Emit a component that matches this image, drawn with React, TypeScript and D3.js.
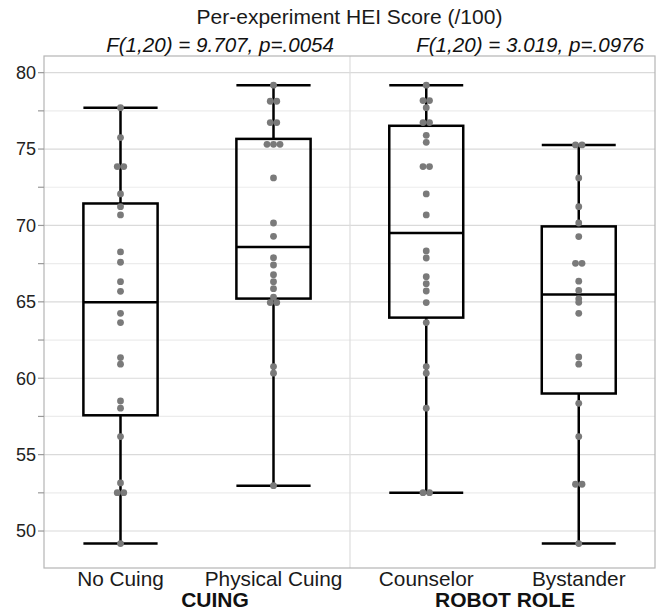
import React from 'react'
import * as d3 from 'd3'

// per-participant HEI scores
const noCuing = [77.71, 75.75, 73.85, 73.85, 72.06, 71.23, 70.69, 68.27, 67.59, 66.32, 65.69,
  64.25, 63.64, 61.35, 60.92, 58.51, 58.04, 56.18, 53.15, 52.51, 52.51, 49.18]
const physicalCuing = [79.18, 78.13, 78.13, 76.73, 76.73, 75.31, 75.31, 75.31, 73.11, 70.16, 69.29,
  67.89, 67.41, 66.78, 66.32, 65.86, 65.3, 64.95, 64.95, 60.76, 60.33, 52.97]
const counselor = [79.18, 78.17, 78.17, 77.71, 76.73, 76.73, 75.9, 75.44, 73.85, 73.85, 72.06, 70.69,
  68.33, 67.87, 66.65, 66.19, 65.71, 64.95, 63.64, 60.76, 60.33, 58.04, 52.51, 52.51]
const bystander = [75.27, 75.27, 73.11, 71.23, 70.16, 69.27, 67.52, 67.52, 66.35, 65.75, 65.2,
  64.97, 64.25, 61.39, 60.92, 58.36, 56.18, 53.06, 53.06, 49.18]

const cuingCats = ['No Cuing', 'Physical Cuing']
const roleCats = ['Counselor', 'Bystander']
const cuingSeries = [noCuing, physicalCuing]
const roleSeries = [counselor, bystander]

const groupTitles = ['CUING', 'ROBOT ROLE']
const stats = ['F(1,20) = 9.707, p=.0054', 'F(1,20) = 3.019, p=.0976']
const title = 'Per-experiment HEI Score (/100)'

const yTicks = d3.range(50, 80.01, 2.5)

const W = 660
const H = 613
const frame = { left: 44, right: 655, top: 56, bottom: 568 }
const mid = 350
const font = '"Liberation Sans", Arial, sans-serif'

// quartiles the way SPSS / Minitab do it (p*(n+1))
function q6(sorted: number[], p: number) {
  const n = sorted.length
  const h = p * (n + 1)
  const lo = Math.floor(h)
  if (lo < 1) return sorted[0]
  if (lo >= n) return sorted[n - 1]
  return sorted[lo - 1] + (h - lo) * (sorted[lo] - sorted[lo - 1])
}

function swarm(vals: number[]) {
  const out: { v: number, dx: number }[] = []
  const seen = new Map<number, number>()
  vals.forEach(v => seen.set(v, (seen.get(v) || 0) + 1))
  seen.forEach((k, v) => {
    for (let i = 0; i < k; i++) out.push({ v, dx: (i - (k - 1) / 2) * 6.5 })
  })
  return out
}

const Panel = ({ cats, series, x0, x1 }: { cats: string[], series: number[][], x0: number, x1: number }) => {
  const y = d3.scaleLinear().domain([47.58, 81.09]).range([frame.bottom, frame.top])
  const x = d3.scaleBand().domain(cats).range([x0, x1]).paddingInner(0.515).paddingOuter(0.2575)
  const bw = x.bandwidth()
  return (
    <g>
      {cats.map((c, i) => {
        const s = series[i].slice().sort(d3.ascending)
        const q1 = q6(s, 0.25)
        const med = q6(s, 0.5)
        const q3 = q6(s, 0.75)
        const lo = s[0]
        const hi = s[s.length - 1]
        const bx = x(c) as number
        const cx = bx + bw / 2
        return (
          <g key={c} stroke="#000" strokeWidth={2.5} fill="none">
            <line x1={cx} x2={cx} y1={y(hi)} y2={y(q3)} />
            <line x1={cx} x2={cx} y1={y(q1)} y2={y(lo)} />
            <line x1={bx} x2={bx + bw} y1={y(hi)} y2={y(hi)} />
            <line x1={bx} x2={bx + bw} y1={y(lo)} y2={y(lo)} />
            <rect x={bx} y={y(q3)} width={bw} height={y(q1) - y(q3)} />
            <line x1={bx} x2={bx + bw} y1={y(med)} y2={y(med)} />
            {swarm(series[i]).map((d, j) => (
              <circle key={j} cx={cx + d.dx} cy={y(d.v)} r={3.4} fill="#7a7a7a" stroke="none" />
            ))}
            <text x={cx} y={586} textAnchor="middle" fontSize={20.8} fill="#1a1a1a" stroke="none"
              fontFamily={font}>{c}</text>
          </g>
        )
      })}
    </g>
  )
}

export default function App() {
  const y = d3.scaleLinear().domain([47.58, 81.09]).range([frame.bottom, frame.top])
  return (
    <svg width={W} height={H} style={{ position: 'absolute', left: 0, top: 0, background: '#fff' }}>
      <rect x={0} y={0} width={W} height={H} fill="#fff" />
      {yTicks.map(t => (
        <line key={t} x1={frame.left} x2={frame.right} y1={y(t)} y2={y(t)}
          stroke={t % 5 === 0 ? '#dadada' : '#ececec'} strokeWidth={1.2} />
      ))}
      <line x1={mid} x2={mid} y1={frame.top} y2={frame.bottom} stroke="#dddddd" strokeWidth={1.2} />
      <rect x={frame.left} y={frame.top} width={frame.right - frame.left} height={frame.bottom - frame.top}
        fill="none" stroke="#b5b5b5" strokeWidth={1.2} />
      {yTicks.map(t => (
        <g key={'t' + t}>
          <line x1={frame.left - 6} x2={frame.left} y1={y(t)} y2={y(t)} stroke="#999" strokeWidth={1.2} />
          {t % 5 === 0 && (
            <text x={frame.left - 8} y={y(t)} dy="0.35em" textAnchor="end" fontSize={18}
              fill="#222" fontFamily={font}>{t}</text>
          )}
        </g>
      ))}
      <Panel cats={cuingCats} series={cuingSeries} x0={frame.left} x1={mid} />
      <Panel cats={roleCats} series={roleSeries} x0={mid} x1={frame.right} />
      <text x={(frame.left + frame.right) / 2} y={24} textAnchor="middle" fontSize={21}
        fill="#1a1a1a" fontFamily={font}>{title}</text>
      <text x={mid - 16} y={52} textAnchor="end" fontSize={20.6} fontStyle="italic"
        fill="#111" fontFamily={font}>{stats[0]}</text>
      <text x={frame.right - 11} y={52} textAnchor="end" fontSize={20.6} fontStyle="italic"
        fill="#111" fontFamily={font}>{stats[1]}</text>
      <text x={215} y={607} textAnchor="middle" fontSize={21} fontWeight="bold"
        fill="#111" fontFamily={font}>{groupTitles[0]}</text>
      <text x={505} y={607} textAnchor="middle" fontSize={21} fontWeight="bold"
        fill="#111" fontFamily={font}>{groupTitles[1]}</text>
    </svg>
  )
}
